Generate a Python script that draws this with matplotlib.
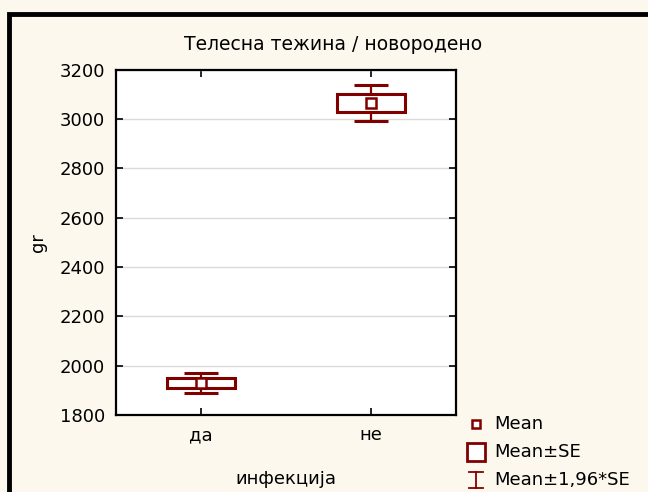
import matplotlib
matplotlib.use("Agg")
import matplotlib.pyplot as plt
from matplotlib.patches import Rectangle
from matplotlib.lines import Line2D

# Birth weight by infection status
categories = ["да", "не"]
means = [1930, 3063]
se = [20, 37]
yticks = [1800, 2000, 2200, 2400, 2600, 2800, 3000, 3200]

title = "Телесна тежина / новородено"
xlabel = "инфекција"
ylabel = "gr"
legend_labels = ["Mean", "Mean±SE", "Mean±1,96*SE"]

DARK_RED = "#800000"
BG = "#FDF8EE"
FS = 13

plt.rcParams["font.family"] = ["DejaVu Sans"]

W, H = 648, 492
fig = plt.figure(figsize=(W / 100, H / 100), dpi=100, facecolor=BG)
ax = fig.add_axes([116 / W, 1 - 415 / H, (456 - 116) / W, (415 - 69.5) / H])
ax.set_facecolor("white")

box_w = 0.4
cap_w = 0.2
for i, (m, s) in enumerate(zip(means, se)):
    x = i
    ax.add_patch(Rectangle((x - box_w / 2, m - s), box_w, 2 * s,
                           facecolor="none", edgecolor=DARK_RED, lw=2.2, zorder=3))
    hi, lo = m + 1.96 * s, m - 1.96 * s
    ax.vlines(x, m + s, hi, color=DARK_RED, lw=1.6, zorder=3)
    ax.vlines(x, lo, m - s, color=DARK_RED, lw=1.6, zorder=3)
    ax.hlines([hi, lo], x - cap_w / 2, x + cap_w / 2, color=DARK_RED, lw=2.2, zorder=3)
    ax.plot(x, m, marker="s", ms=6.5, mfc="white", mec=DARK_RED, mew=1.8, zorder=4)

ax.set_xlim(-0.5, 1.5)
ax.set_ylim(1800, 3200)
ax.set_xticks(range(len(categories)))
ax.set_xticklabels(categories)
ax.set_yticks(yticks)
ax.grid(axis="y", color="#DADADA", lw=1)
ax.set_axisbelow(True)
ax.tick_params(direction="in", length=5, width=1.2, top=True, right=True,
               labelsize=FS, pad=8)
for sp in ax.spines.values():
    sp.set_linewidth(1.6)

ax.set_xlabel(xlabel, fontsize=FS, va="center")
ax.xaxis.set_label_coords(0.5, (415 - 479) / 345.5)
ax.set_ylabel(ylabel, fontsize=FS, va="center")
ax.yaxis.set_label_coords((38 - 116) / 340, 0.5)
fig.text(333 / W, 1 - 44 / H, title, ha="center", va="center", fontsize=13.5)

# outer frame
fig.patches.append(Rectangle((9 / W, -0.1), 1.1, 1 - 14 / H + 0.1, transform=fig.transFigure,
                             facecolor="none", edgecolor="black", lw=3.5))

# legend key
lx = 476 / W
rows = [424, 452, 480]
fig.add_artist(Line2D([lx], [1 - rows[0] / H], marker="s", ms=5.5, mfc="white",
                      mec=DARK_RED, mew=1.8, transform=fig.transFigure))
fig.add_artist(Line2D([lx], [1 - rows[1] / H], marker="s", ms=13, mfc="white",
                      mec=DARK_RED, mew=2, transform=fig.transFigure))
yc = 1 - rows[2] / H
fig.add_artist(Line2D([lx, lx], [yc - 8 / H, yc + 8 / H], color=DARK_RED, lw=1.3,
                      transform=fig.transFigure))
for dy in (-8, 8):
    fig.add_artist(Line2D([lx - 7 / W, lx + 7 / W], [yc + dy / H] * 2, color=DARK_RED,
                          lw=1.3, transform=fig.transFigure))
for r, lab in zip(rows, legend_labels):
    fig.text(494 / W, 1 - r / H, lab, ha="left", va="center", fontsize=FS)

fig.savefig("out.png", dpi=100, facecolor=BG)
